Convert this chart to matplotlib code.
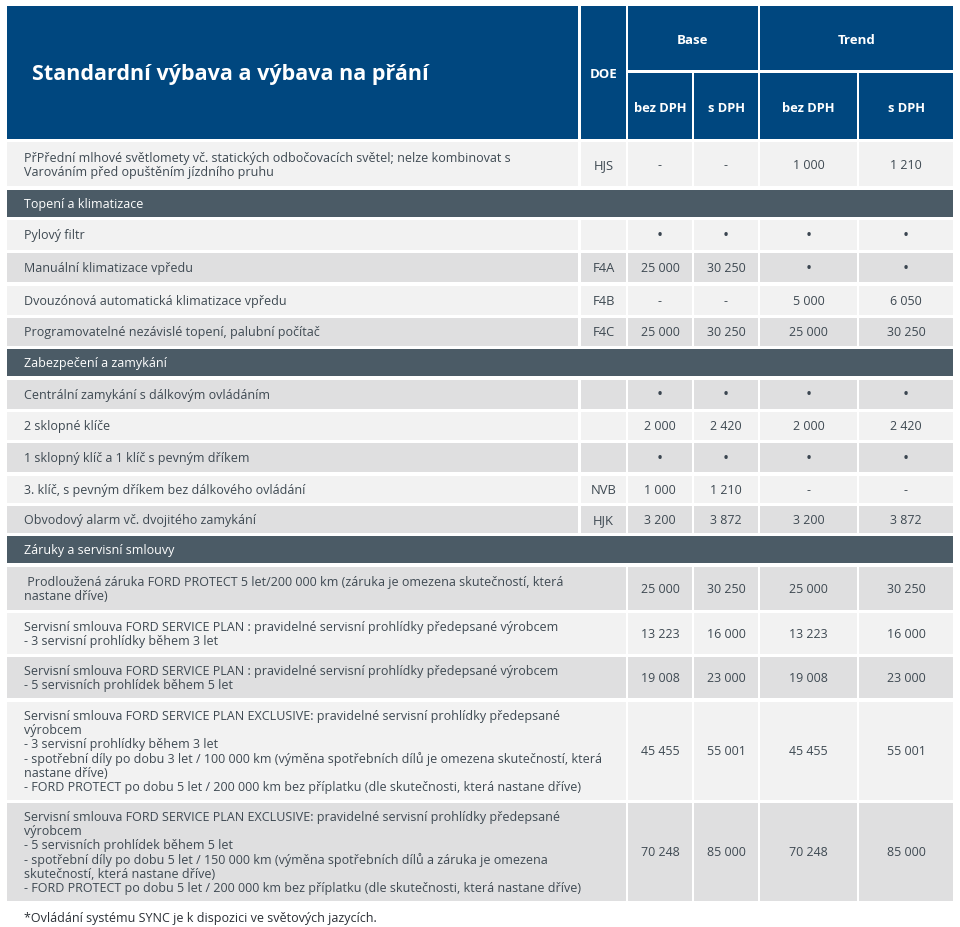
import matplotlib
matplotlib.use("Agg")
import matplotlib.pyplot as plt
from matplotlib.patches import Rectangle

plt.rcParams['font.family'] = ['Open Sans', 'DejaVu Sans']

# ---------------- data ----------------
title = "Standardní výbava a výbava na přání"
doe_header = "DOE"
groups = ["Base", "Trend"]
sub_headers = ["bez DPH", "s DPH", "bez DPH", "s DPH"]

# kind: 'item' (label + DOE + 4 values), 'section' (band), 'wide' (label spans DOE)
row_kinds = ["item", "section", "item", "item", "item", "item", "section",
             "item", "item", "item", "item", "item", "section",
             "wide", "wide", "wide", "wide", "wide"]
row_labels = [
    "PřPřední mlhové světlomety vč. statických odbočovacích světel; nelze kombinovat s\nVarováním před opuštěním jízdního pruhu",
    "Topení a klimatizace",
    "Pylový filtr",
    "Manuální klimatizace vpředu",
    "Dvouzónová automatická klimatizace vpředu",
    "Programovatelné nezávislé topení, palubní počítač",
    "Zabezpečení a zamykání",
    "Centrální zamykání s dálkovým ovládáním",
    "2 sklopné klíče",
    "1 sklopný klíč a 1 klíč s pevným dříkem",
    "3. klíč, s pevným dříkem bez dálkového ovládání",
    "Obvodový alarm vč. dvojitého zamykání",
    "Záruky a servisní smlouvy",
    " Prodloužená záruka FORD PROTECT 5 let/200 000 km (záruka je omezena skutečností, která\nnastane dříve)",
    "Servisní smlouva FORD SERVICE PLAN : pravidelné servisní prohlídky předepsané výrobcem\n- 3 servisní prohlídky během 3 let",
    "Servisní smlouva FORD SERVICE PLAN : pravidelné servisní prohlídky předepsané výrobcem\n- 5 servisních prohlídek během 5 let",
    "Servisní smlouva FORD SERVICE PLAN EXCLUSIVE: pravidelné servisní prohlídky předepsané\nvýrobcem\n- 3 servisní prohlídky během 3 let\n- spotřební díly po dobu 3 let / 100 000 km (výměna spotřebních dílů je omezena skutečností, která\nnastane dříve)\n- FORD PROTECT po dobu 5 let / 200 000 km bez příplatku (dle skutečnosti, která nastane dříve)",
    "Servisní smlouva FORD SERVICE PLAN EXCLUSIVE: pravidelné servisní prohlídky předepsané\nvýrobcem\n- 5 servisních prohlídek během 5 let\n- spotřební díly po dobu 5 let / 150 000 km (výměna spotřebních dílů a záruka je omezena\nskutečností, která nastane dříve)\n- FORD PROTECT po dobu 5 let / 200 000 km bez příplatku (dle skutečnosti, která nastane dříve)",
]
row_doe = ["HJS", "", "", "F4A", "F4B", "F4C", "", "", "", "", "NVB", "HJK", "",
           "", "", "", "", ""]
base_bez = ["-", "", "•", "25 000", "-", "25 000", "", "•", "2 000", "•", "1 000", "3 200", "",
            "25 000", "13 223", "19 008", "45 455", "70 248"]
base_s = ["-", "", "•", "30 250", "-", "30 250", "", "•", "2 420", "•", "1 210", "3 872", "",
          "30 250", "16 000", "23 000", "55 001", "85 000"]
trend_bez = ["1 000", "", "•", "•", "5 000", "25 000", "", "•", "2 000", "•", "-", "3 200", "",
             "25 000", "13 223", "19 008", "45 455", "70 248"]
trend_s = ["1 210", "", "•", "•", "6 050", "30 250", "", "•", "2 420", "•", "-", "3 872", "",
           "30 250", "16 000", "23 000", "55 001", "85 000"]
footnote = "*Ovládání systému SYNC je k dispozici ve světových jazycích."

# ---------------- layout / style ----------------
row_heights = [44, 27, 30, 29, 29, 28, 27, 29, 28, 29, 27, 27, 27, 43, 41, 41, 98, 98]
row_shade = ["l", "s", "l", "d", "l", "d", "s", "d", "l", "d", "l", "d", "s",
             "d", "l", "d", "l", "d"]
shade_colors = {"l": "#f2f2f2", "d": "#dfdfe0", "s": "#4b5b66"}
BLUE = "#00477f"
TXT = "#3e4952"
GAP = 3.33
FS_LBL = 9.0
FS_NUM = 8.9

# column edges (px)
LBL = (7, 578)
DOE = (581, 626)
COLS = [(628, 692), (694, 758), (760, 857), (859, 953)]
TOP, HDR_BOT, HDR_MID = 7, 140, 71

fig = plt.figure(figsize=(9.6, 9.28), dpi=100)
ax = fig.add_axes([0, 0, 1, 1])
ax.set_xlim(0, 960)
ax.set_ylim(928, 0)
ax.axis("off")

def rect(x0, x1, y0, y1, color):
    ax.add_patch(Rectangle((x0, y0), x1 - x0, y1 - y0, facecolor=color,
                           edgecolor="none", linewidth=0))

# header
rect(LBL[0], LBL[1], TOP, HDR_BOT, BLUE)
rect(DOE[0], DOE[1], TOP, HDR_BOT, BLUE)
rect(COLS[0][0], COLS[1][1], TOP, HDR_MID, BLUE)
rect(COLS[2][0], COLS[3][1], TOP, HDR_MID, BLUE)
for c in COLS:
    rect(c[0], c[1], HDR_MID + 3, HDR_BOT, BLUE)

ax.text(32, (TOP + HDR_BOT) / 2 + 1, title, color="white", fontsize=15.5,
        fontweight="bold", va="center", ha="left")
ax.text((DOE[0] + DOE[1]) / 2, (TOP + HDR_BOT) / 2 + 1, doe_header, color="white",
        fontsize=9.5, fontweight="bold", va="center", ha="center")
ax.text((COLS[0][0] + COLS[1][1]) / 2, (TOP + HDR_MID) / 2 + 1, groups[0], color="white",
        fontsize=9.5, fontweight="bold", va="center", ha="center")
ax.text((COLS[2][0] + COLS[3][1]) / 2, (TOP + HDR_MID) / 2 + 1, groups[1], color="white",
        fontsize=9.5, fontweight="bold", va="center", ha="center")
for c, s in zip(COLS, sub_headers):
    ax.text((c[0] + c[1]) / 2, (HDR_MID + 3 + HDR_BOT) / 2 + 1, s, color="white",
            fontsize=9.3, fontweight="bold", va="center", ha="center")

# body rows
y = HDR_BOT + GAP
values = list(zip(base_bez, base_s, trend_bez, trend_s))
for i, kind in enumerate(row_kinds):
    h = row_heights[i]
    y0, y1 = y, y + h
    yc = (y0 + y1) / 2
    col = shade_colors[row_shade[i]]
    if kind == "section":
        rect(LBL[0], COLS[3][1], y0, y1, col)
        ax.text(24, yc, row_labels[i], color="white", fontsize=FS_LBL,
                va="center", ha="left")
    else:
        if kind == "wide":
            rect(LBL[0], DOE[1], y0, y1, col)
        else:
            rect(LBL[0], LBL[1], y0, y1, col)
            rect(DOE[0], DOE[1], y0, y1, col)
            ax.text((DOE[0] + DOE[1]) / 2, yc, row_doe[i], color=TXT,
                    fontsize=9.4, va="center", ha="center")
        ax.text(24, yc, row_labels[i], color=TXT, fontsize=FS_LBL,
                va="center", ha="left", linespacing=1.1)
        for c, v in zip(COLS, values[i]):
            rect(c[0], c[1], y0, y1, col)
            if v == "•":
                ax.text((c[0] + c[1]) / 2, yc, v, color="#3a4550", fontsize=11.5,
                        va="center", ha="center")
            else:
                ax.text((c[0] + c[1]) / 2, yc, v, color=TXT, fontsize=FS_NUM,
                        va="center", ha="center")
    y = y1 + GAP

ax.text(24, 919, footnote, color="#2a2f35", fontsize=FS_LBL, va="center", ha="left")

fig.savefig("out.png", dpi=100)
